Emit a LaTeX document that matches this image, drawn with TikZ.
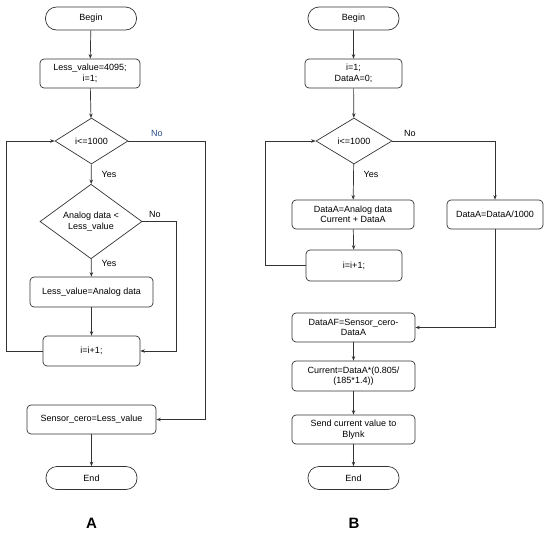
\documentclass[tikz,border=0pt]{standalone}
\usepackage{fontspec}
\setmainfont{Liberation Sans}
\usetikzlibrary{shapes.geometric,arrows.meta}
\definecolor{noblue}{HTML}{2A4B8A}
\definecolor{lin}{HTML}{333333}
\tikzset{
  base/.style={draw=lin,line width=0.7pt,font=\fontsize{9}{10.5}\selectfont,align=center,inner sep=1pt},
  term/.style={base,rounded corners=11pt,minimum width=91pt,minimum height=23pt},
  proc/.style={base,rounded corners=4pt},
  dec/.style={base,diamond,inner sep=0pt},
  conn/.style={draw=lin,line width=0.7pt,-{Stealth[length=4.5pt,width=3.5pt]}},
  lbl/.style={font=\fontsize{9}{10.5}\selectfont,inner sep=0pt},
}
\begin{document}
\begin{tikzpicture}[x=1pt,y=-1pt]
\useasboundingbox (0,0) rectangle (550,536);
% ---------- A ----------
\node[term] (a1) at (91,18.5) {Begin};
\node[proc,minimum width=100pt,minimum height=29pt] (a2) at (90,73.5) {Less\_value=4095;\\ i=1;};
\node[dec,minimum width=73pt,minimum height=46pt] (a3) at (91.5,141) {i<=1000};
\node[dec,minimum width=102pt,minimum height=53pt] (a4) at (91,221.5) {Analog data <\\ Less\_value};
\node[proc,minimum width=123pt,minimum height=30pt] (a5) at (91.5,292) {Less\_value=Analog data};
\node[proc,minimum width=97pt,minimum height=30pt] (a6) at (91.5,351) {i=i+1;};
\node[proc,minimum width=129pt,minimum height=29pt] (a7) at (91.5,419.5) {Sensor\_cero=Less\_value};
\node[term] (a8) at (91.5,478) {End};
\node[font=\bfseries\fontsize{15}{17}\selectfont] (la) at (91.5,523) {A};
\coordinate (aL1) at (6,351);
\coordinate (aL2) at (6,141);
\coordinate (aR1) at (205,141);
\coordinate (aR2) at (205,419.5);
\coordinate (aN1) at (176,221.5);
\coordinate (aN2) at (176,351);
\draw[conn] (a1) -- (a2);
\draw[conn] (a2) -- (a3);
\draw[conn] (a3) -- (a4);
\draw[conn] (a4) -- (a5);
\draw[conn] (a5) -- (a6);
\draw[conn] (a7) -- (a8);
\draw[conn] (a6.west) -- (aL1) -- (aL2) -- (a3.west);
\draw[conn] (a3.east) -- (aR1) -- (aR2) -- (a7.east);
\draw[conn] (a4.east) -- (aN1) -- (aN2) -- (a6.east);
\node[lbl,text=noblue] (an1) at (157,133) {No};
\node[lbl] (an2) at (155,214) {No};
\node[lbl] (ay1) at (109,174) {Yes};
\node[lbl] (ay2) at (109,263) {Yes};
% ---------- B ----------
\node[term] (b1) at (353.5,18.5) {Begin};
\node[proc,minimum width=97pt,minimum height=29pt] (b2) at (353.5,73.5) {i=1;\\ DataA=0;};
\node[dec,minimum width=76pt,minimum height=46pt] (b3) at (354,141) {i<=1000};
\node[proc,minimum width=122pt,minimum height=29pt] (b4) at (353,214.5) {DataA=Analog data\\ Current + DataA};
\node[proc,minimum width=96pt,minimum height=29pt] (b5) at (495,214.5) {DataA=DataA/1000};
\node[proc,minimum width=96pt,minimum height=31pt] (b6) at (354,265.5) {i=i+1;};
\node[proc,minimum width=123pt,minimum height=29pt] (b7) at (353.5,327.5) {DataAF=Sensor\_cero-\\ DataA};
\node[proc,minimum width=123pt,minimum height=30pt] (b8) at (353.5,376) {Current=DataA*(0.805/\\ (185*1.4))};
\node[proc,minimum width=123pt,minimum height=29pt] (b9) at (353.5,429.5) {Send current value to\\ Blynk};
\node[term] (b10) at (353.5,478) {End};
\node[font=\bfseries\fontsize{15}{17}\selectfont] (lb) at (354,523) {B};
\coordinate (bL1) at (265,265.5);
\coordinate (bL2) at (265,141);
\coordinate (bR1) at (495,141);
\coordinate (bD1) at (495,327.5);
\draw[conn] (b1) -- (b2);
\draw[conn] (b2) -- (b3);
\draw[conn] (b3) -- (b4);
\draw[conn] (b4) -- (b6);
\draw[conn] (b7) -- (b8);
\draw[conn] (b8) -- (b9);
\draw[conn] (b9) -- (b10);
\draw[conn] (b6.west) -- (bL1) -- (bL2) -- (b3.west);
\draw[conn] (b3.east) -- (bR1) -- (b5.north);
\draw[conn] (b5.south) -- (bD1) -- (b7.east);
\node[lbl] (bn1) at (410,133) {No};
\node[lbl] (by1) at (371,174) {Yes};
\end{tikzpicture}
\end{document}
